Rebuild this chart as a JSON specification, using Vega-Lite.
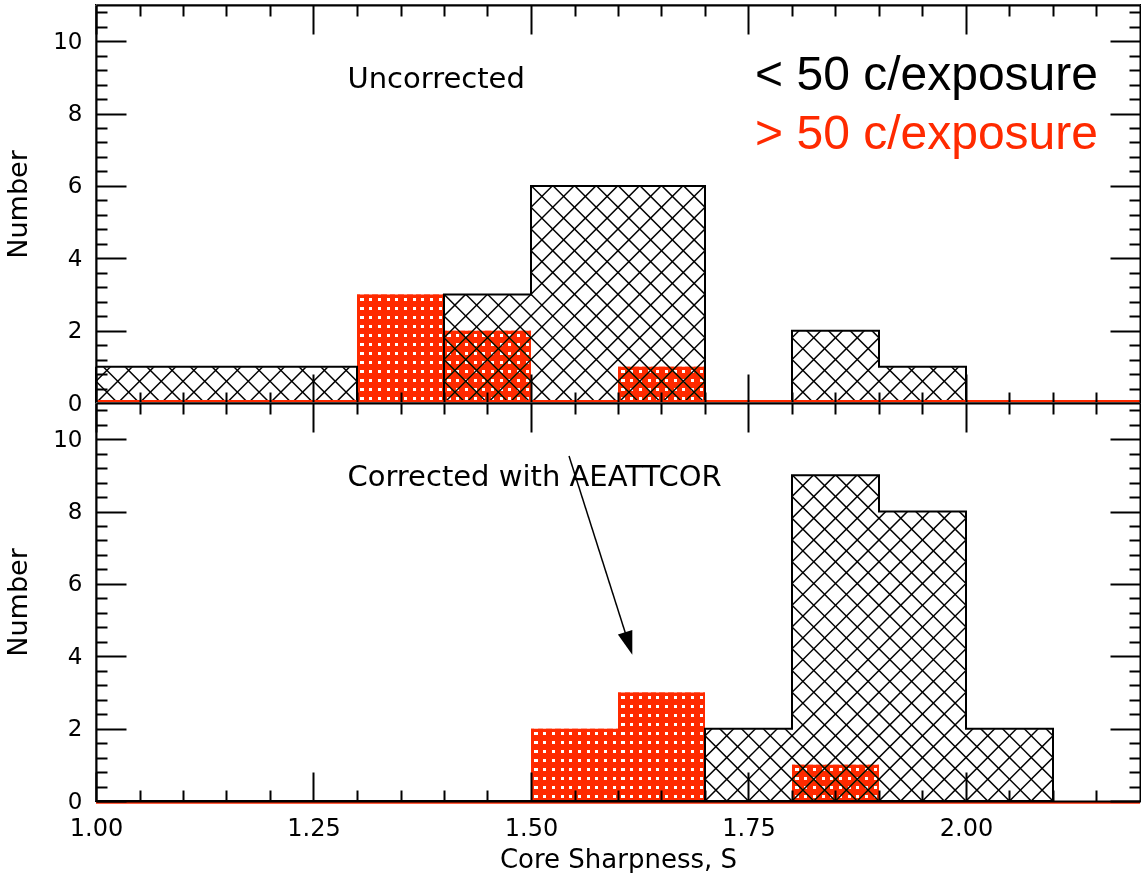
{
  "$schema": "https://vega.github.io/schema/vega-lite/v6.json",
  "background": "white",
  "autosize": {"type": "pad"},
  "padding": {"left": 3, "top": 3, "right": 0, "bottom": 0},
  "spacing": 0,
  "bounds": "flush",
  "config": {
    "view": {"stroke": "black", "strokeWidth": 2},
    "axis": {"grid": false, "domain": false, "zindex": 1, "labelFlush": false, "tickColor": "black", "tickWidth": 2, "domainColor": "black", "domainWidth": 2, "labelColor": "black", "titleColor": "black", "labelFont": "DejaVu Sans", "titleFont": "DejaVu Sans", "titleFontWeight": "normal"},
    "text": {"font": "DejaVu Sans"}
  },
  "datasets": {
    "bins": [
      {"panel": "Uncorrected", "set": "faint", "lo": 1.0, "hi": 1.1, "n": 1},
      {"panel": "Uncorrected", "set": "faint", "lo": 1.1, "hi": 1.2, "n": 1},
      {"panel": "Uncorrected", "set": "faint", "lo": 1.2, "hi": 1.3, "n": 1},
      {"panel": "Uncorrected", "set": "faint", "lo": 1.3, "hi": 1.4, "n": 0},
      {"panel": "Uncorrected", "set": "faint", "lo": 1.4, "hi": 1.5, "n": 3},
      {"panel": "Uncorrected", "set": "faint", "lo": 1.5, "hi": 1.6, "n": 6},
      {"panel": "Uncorrected", "set": "faint", "lo": 1.6, "hi": 1.7, "n": 6},
      {"panel": "Uncorrected", "set": "faint", "lo": 1.7, "hi": 1.8, "n": 0},
      {"panel": "Uncorrected", "set": "faint", "lo": 1.8, "hi": 1.9, "n": 2},
      {"panel": "Uncorrected", "set": "faint", "lo": 1.9, "hi": 2.0, "n": 1},
      {"panel": "Uncorrected", "set": "faint", "lo": 2.0, "hi": 2.1, "n": 0},
      {"panel": "Uncorrected", "set": "faint", "lo": 2.1, "hi": 2.2, "n": 0},
      {"panel": "Uncorrected", "set": "bright", "lo": 1.3, "hi": 1.4, "n": 3},
      {"panel": "Uncorrected", "set": "bright", "lo": 1.4, "hi": 1.5, "n": 2},
      {"panel": "Uncorrected", "set": "bright", "lo": 1.6, "hi": 1.7, "n": 1},
      {"panel": "Corrected", "set": "faint", "lo": 1.0, "hi": 1.1, "n": 0},
      {"panel": "Corrected", "set": "faint", "lo": 1.1, "hi": 1.2, "n": 0},
      {"panel": "Corrected", "set": "faint", "lo": 1.2, "hi": 1.3, "n": 0},
      {"panel": "Corrected", "set": "faint", "lo": 1.3, "hi": 1.4, "n": 0},
      {"panel": "Corrected", "set": "faint", "lo": 1.4, "hi": 1.5, "n": 0},
      {"panel": "Corrected", "set": "faint", "lo": 1.5, "hi": 1.6, "n": 0},
      {"panel": "Corrected", "set": "faint", "lo": 1.6, "hi": 1.7, "n": 0},
      {"panel": "Corrected", "set": "faint", "lo": 1.7, "hi": 1.8, "n": 2},
      {"panel": "Corrected", "set": "faint", "lo": 1.8, "hi": 1.9, "n": 9},
      {"panel": "Corrected", "set": "faint", "lo": 1.9, "hi": 2.0, "n": 8},
      {"panel": "Corrected", "set": "faint", "lo": 2.0, "hi": 2.1, "n": 2},
      {"panel": "Corrected", "set": "faint", "lo": 2.1, "hi": 2.2, "n": 0},
      {"panel": "Corrected", "set": "bright", "lo": 1.5, "hi": 1.6, "n": 2},
      {"panel": "Corrected", "set": "bright", "lo": 1.6, "hi": 1.7, "n": 3},
      {"panel": "Corrected", "set": "bright", "lo": 1.8, "hi": 1.9, "n": 1}
    ],
    "hatch": [
      {"a": 0.525}, {"a": 0.55}, {"a": 0.575}, {"a": 0.6}, {"a": 0.625}, {"a": 0.65}, {"a": 0.675}, {"a": 0.7}, {"a": 0.725}, {"a": 0.75},
      {"a": 0.775}, {"a": 0.8}, {"a": 0.825}, {"a": 0.85}, {"a": 0.875}, {"a": 0.9}, {"a": 0.925}, {"a": 0.95}, {"a": 0.975}, {"a": 1.0},
      {"a": 1.025}, {"a": 1.05}, {"a": 1.075}, {"a": 1.1}, {"a": 1.125}, {"a": 1.15}, {"a": 1.175}, {"a": 1.2}, {"a": 1.225}, {"a": 1.25},
      {"a": 1.275}, {"a": 1.3}, {"a": 1.325}, {"a": 1.35}, {"a": 1.375}, {"a": 1.4}, {"a": 1.425}, {"a": 1.45}, {"a": 1.475}, {"a": 1.5},
      {"a": 1.525}, {"a": 1.55}, {"a": 1.575}, {"a": 1.6}, {"a": 1.625}, {"a": 1.65}, {"a": 1.675}, {"a": 1.7}, {"a": 1.725}, {"a": 1.75},
      {"a": 1.775}, {"a": 1.8}, {"a": 1.825}, {"a": 1.85}, {"a": 1.875}, {"a": 1.9}, {"a": 1.925}, {"a": 1.95}, {"a": 1.975}, {"a": 2.0},
      {"a": 2.025}, {"a": 2.05}, {"a": 2.075}, {"a": 2.1}, {"a": 2.125}, {"a": 2.15}, {"a": 2.175}, {"a": 2.2}, {"a": 2.225}, {"a": 2.25},
      {"a": 2.275}, {"a": 2.3}, {"a": 2.325}, {"a": 2.35}, {"a": 2.375}, {"a": 2.4}, {"a": 2.425}, {"a": 2.45}, {"a": 2.475}, {"a": 2.5},
      {"a": 2.525}, {"a": 2.55}, {"a": 2.575}, {"a": 2.6}, {"a": 2.625}, {"a": 2.65}, {"a": 2.675}
    ]
  },
  "vconcat": [
    {
      "width": 1044,
      "height": 398,
      "resolve": {"axis": {"x": "independent", "y": "independent"}},
      "layer": [
        {
          "data": {"name": "hatch"},
          "mark": {"type": "rule", "clip": true, "color": "black", "strokeWidth": 1.5, "x2Offset": 398},
          "encoding": {
            "x": {"field": "a", "type": "quantitative", "scale": {"domain": [1, 2.2], "nice": false, "zero": false}, "axis": {"orient": "bottom", "values": [1, 1.25, 1.5, 1.75, 2], "labels": false, "tickSize": -29, "domain": true, "title": null, "zindex": 1}},
            "x2": {"field": "a"},
            "y": {"datum": 0, "type": "quantitative", "scale": {"domain": [0, 11], "nice": false, "zero": false}, "axis": {"orient": "left", "values": [0, 2, 4, 6, 8, 10], "labels": false, "tickSize": -30, "domain": true, "title": null, "zindex": 1}},
            "y2": {"datum": 11}
          }
        },
        {
          "data": {"name": "hatch"},
          "mark": {"type": "rule", "clip": true, "color": "black", "strokeWidth": 1.5, "x2Offset": -398},
          "encoding": {
            "x": {"field": "a", "type": "quantitative", "scale": {"domain": [1, 2.2], "nice": false, "zero": false}, "axis": {"orient": "bottom", "values": [1.05, 1.1, 1.15, 1.2, 1.3, 1.35, 1.4, 1.45, 1.55, 1.6, 1.65, 1.7, 1.8, 1.85, 1.9, 1.95, 2.05, 2.1, 2.15], "labels": false, "tickSize": -11, "title": null, "zindex": 1}},
            "x2": {"field": "a"},
            "y": {"datum": 0, "type": "quantitative", "scale": {"domain": [0, 11], "nice": false, "zero": false}, "axis": {"orient": "left", "values": [0.4, 0.8, 1.2, 1.6, 2.4, 2.8, 3.2, 3.6, 4.4, 4.8, 5.2, 5.6, 6.4, 6.8, 7.2, 7.6, 8.4, 8.8, 9.2, 9.6, 10.4, 10.8], "labels": false, "tickSize": -11, "title": null, "zindex": 1}},
            "y2": {"datum": 11}
          }
        },
        {
          "data": {"name": "bins"},
          "transform": [{"filter": "datum.panel == 'Uncorrected' && datum.set == 'faint'"}],
          "mark": {"type": "bar", "color": "white", "stroke": "white", "strokeWidth": 1},
          "encoding": {
            "x": {"field": "lo", "type": "quantitative", "scale": {"domain": [1, 2.2], "nice": false, "zero": false}, "axis": {"orient": "top", "values": [1, 1.25, 1.5, 1.75, 2], "labels": false, "tickSize": -29, "domain": true, "title": null, "zindex": 1}},
            "x2": {"field": "hi"},
            "y": {"field": "n", "type": "quantitative", "scale": {"domain": [0, 11], "nice": false, "zero": false}, "axis": {"orient": "right", "values": [0, 2, 4, 6, 8, 10], "labels": false, "tickSize": -30, "domain": true, "title": null, "zindex": 1}},
            "y2": {"datum": 11}
          }
        },
        {
          "data": {"name": "bins"},
          "transform": [{"filter": "datum.panel == 'Uncorrected' && datum.set == 'bright' && datum.n == 1"}],
          "mark": {"type": "bar", "blend": "darken", "fill": {"gradient": "linear", "x1": 0, "y1": 0, "x2": 0, "y2": 1, "stops": [
            {"offset": 0, "color": "#ff2a00"},
            {"offset": 0.0875, "color": "#ff2a00"}, {"offset": 0.0875, "color": "#ffffff"}, {"offset": 0.175, "color": "#ffffff"}, {"offset": 0.175, "color": "#ff2a00"},
            {"offset": 0.3375, "color": "#ff2a00"}, {"offset": 0.3375, "color": "#ffffff"}, {"offset": 0.425, "color": "#ffffff"}, {"offset": 0.425, "color": "#ff2a00"},
            {"offset": 0.5875, "color": "#ff2a00"}, {"offset": 0.5875, "color": "#ffffff"}, {"offset": 0.675, "color": "#ffffff"}, {"offset": 0.675, "color": "#ff2a00"},
            {"offset": 0.8375, "color": "#ff2a00"}, {"offset": 0.8375, "color": "#ffffff"}, {"offset": 0.925, "color": "#ffffff"}, {"offset": 0.925, "color": "#ff2a00"},
            {"offset": 1, "color": "#ff2a00"}]}},
          "encoding": {
            "x": {"field": "lo", "type": "quantitative", "scale": {"domain": [1, 2.2], "nice": false, "zero": false}, "axis": {"orient": "top", "values": [1.05, 1.1, 1.15, 1.2, 1.3, 1.35, 1.4, 1.45, 1.55, 1.6, 1.65, 1.7, 1.8, 1.85, 1.9, 1.95, 2.05, 2.1, 2.15], "labels": false, "tickSize": -11, "title": null, "zindex": 1}},
            "x2": {"field": "hi"},
            "y": {"field": "n", "type": "quantitative", "scale": {"domain": [0, 11], "nice": false, "zero": false}, "axis": {"orient": "right", "values": [0.4, 0.8, 1.2, 1.6, 2.4, 2.8, 3.2, 3.6, 4.4, 4.8, 5.2, 5.6, 6.4, 6.8, 7.2, 7.6, 8.4, 8.8, 9.2, 9.6, 10.4, 10.8], "labels": false, "tickSize": -11, "title": null, "zindex": 1}},
            "y2": {"datum": 0}
          }
        },
        {
          "data": {"name": "bins"},
          "transform": [{"filter": "datum.panel == 'Uncorrected' && datum.set == 'bright' && datum.n == 2"}],
          "mark": {"type": "bar", "blend": "darken", "fill": {"gradient": "linear", "x1": 0, "y1": 0, "x2": 0, "y2": 1, "stops": [
            {"offset": 0, "color": "#ff2a00"},
            {"offset": 0.04375, "color": "#ff2a00"}, {"offset": 0.04375, "color": "#ffffff"}, {"offset": 0.0875, "color": "#ffffff"}, {"offset": 0.0875, "color": "#ff2a00"},
            {"offset": 0.16875, "color": "#ff2a00"}, {"offset": 0.16875, "color": "#ffffff"}, {"offset": 0.2125, "color": "#ffffff"}, {"offset": 0.2125, "color": "#ff2a00"},
            {"offset": 0.29375, "color": "#ff2a00"}, {"offset": 0.29375, "color": "#ffffff"}, {"offset": 0.3375, "color": "#ffffff"}, {"offset": 0.3375, "color": "#ff2a00"},
            {"offset": 0.41875, "color": "#ff2a00"}, {"offset": 0.41875, "color": "#ffffff"}, {"offset": 0.4625, "color": "#ffffff"}, {"offset": 0.4625, "color": "#ff2a00"},
            {"offset": 0.54375, "color": "#ff2a00"}, {"offset": 0.54375, "color": "#ffffff"}, {"offset": 0.5875, "color": "#ffffff"}, {"offset": 0.5875, "color": "#ff2a00"},
            {"offset": 0.66875, "color": "#ff2a00"}, {"offset": 0.66875, "color": "#ffffff"}, {"offset": 0.7125, "color": "#ffffff"}, {"offset": 0.7125, "color": "#ff2a00"},
            {"offset": 0.79375, "color": "#ff2a00"}, {"offset": 0.79375, "color": "#ffffff"}, {"offset": 0.8375, "color": "#ffffff"}, {"offset": 0.8375, "color": "#ff2a00"},
            {"offset": 0.91875, "color": "#ff2a00"}, {"offset": 0.91875, "color": "#ffffff"}, {"offset": 0.9625, "color": "#ffffff"}, {"offset": 0.9625, "color": "#ff2a00"},
            {"offset": 1, "color": "#ff2a00"}]}},
          "encoding": {
            "x": {"field": "lo", "type": "quantitative", "scale": {"domain": [1, 2.2], "nice": false, "zero": false}, "axis": null},
            "x2": {"field": "hi"},
            "y": {"field": "n", "type": "quantitative", "scale": {"domain": [0, 11], "nice": false, "zero": false}, "axis": null},
            "y2": {"datum": 0}
          }
        },
        {
          "data": {"name": "bins"},
          "transform": [{"filter": "datum.panel == 'Uncorrected' && datum.set == 'bright' && datum.n == 3"}],
          "mark": {"type": "bar", "blend": "darken", "fill": {"gradient": "linear", "x1": 0, "y1": 0, "x2": 0, "y2": 1, "stops": [
            {"offset": 0, "color": "#ff2a00"},
            {"offset": 0.02917, "color": "#ff2a00"}, {"offset": 0.02917, "color": "#ffffff"}, {"offset": 0.05833, "color": "#ffffff"}, {"offset": 0.05833, "color": "#ff2a00"},
            {"offset": 0.1125, "color": "#ff2a00"}, {"offset": 0.1125, "color": "#ffffff"}, {"offset": 0.14167, "color": "#ffffff"}, {"offset": 0.14167, "color": "#ff2a00"},
            {"offset": 0.19583, "color": "#ff2a00"}, {"offset": 0.19583, "color": "#ffffff"}, {"offset": 0.225, "color": "#ffffff"}, {"offset": 0.225, "color": "#ff2a00"},
            {"offset": 0.27917, "color": "#ff2a00"}, {"offset": 0.27917, "color": "#ffffff"}, {"offset": 0.30833, "color": "#ffffff"}, {"offset": 0.30833, "color": "#ff2a00"},
            {"offset": 0.3625, "color": "#ff2a00"}, {"offset": 0.3625, "color": "#ffffff"}, {"offset": 0.39167, "color": "#ffffff"}, {"offset": 0.39167, "color": "#ff2a00"},
            {"offset": 0.44583, "color": "#ff2a00"}, {"offset": 0.44583, "color": "#ffffff"}, {"offset": 0.475, "color": "#ffffff"}, {"offset": 0.475, "color": "#ff2a00"},
            {"offset": 0.52917, "color": "#ff2a00"}, {"offset": 0.52917, "color": "#ffffff"}, {"offset": 0.55833, "color": "#ffffff"}, {"offset": 0.55833, "color": "#ff2a00"},
            {"offset": 0.6125, "color": "#ff2a00"}, {"offset": 0.6125, "color": "#ffffff"}, {"offset": 0.64167, "color": "#ffffff"}, {"offset": 0.64167, "color": "#ff2a00"},
            {"offset": 0.69583, "color": "#ff2a00"}, {"offset": 0.69583, "color": "#ffffff"}, {"offset": 0.725, "color": "#ffffff"}, {"offset": 0.725, "color": "#ff2a00"},
            {"offset": 0.77917, "color": "#ff2a00"}, {"offset": 0.77917, "color": "#ffffff"}, {"offset": 0.80833, "color": "#ffffff"}, {"offset": 0.80833, "color": "#ff2a00"},
            {"offset": 0.8625, "color": "#ff2a00"}, {"offset": 0.8625, "color": "#ffffff"}, {"offset": 0.89167, "color": "#ffffff"}, {"offset": 0.89167, "color": "#ff2a00"},
            {"offset": 0.94583, "color": "#ff2a00"}, {"offset": 0.94583, "color": "#ffffff"}, {"offset": 0.975, "color": "#ffffff"}, {"offset": 0.975, "color": "#ff2a00"},
            {"offset": 1, "color": "#ff2a00"}]}},
          "encoding": {
            "x": {"field": "lo", "type": "quantitative", "scale": {"domain": [1, 2.2], "nice": false, "zero": false}, "axis": null},
            "x2": {"field": "hi"},
            "y": {"field": "n", "type": "quantitative", "scale": {"domain": [0, 11], "nice": false, "zero": false}, "axis": null},
            "y2": {"datum": 0}
          }
        },
        {
          "data": {"name": "bins"},
          "transform": [{"filter": "datum.panel == 'Uncorrected' && datum.set == 'bright'"}],
          "mark": {"type": "bar", "blend": "darken", "fill": {"gradient": "linear", "x1": 0, "y1": 0, "x2": 1, "y2": 0, "stops": [
            {"offset": 0, "color": "#ff2a00"},
            {"offset": 0.04, "color": "#ff2a00"}, {"offset": 0.04, "color": "#ffffff"}, {"offset": 0.075, "color": "#ffffff"}, {"offset": 0.075, "color": "#ff2a00"},
            {"offset": 0.14, "color": "#ff2a00"}, {"offset": 0.14, "color": "#ffffff"}, {"offset": 0.175, "color": "#ffffff"}, {"offset": 0.175, "color": "#ff2a00"},
            {"offset": 0.24, "color": "#ff2a00"}, {"offset": 0.24, "color": "#ffffff"}, {"offset": 0.275, "color": "#ffffff"}, {"offset": 0.275, "color": "#ff2a00"},
            {"offset": 0.34, "color": "#ff2a00"}, {"offset": 0.34, "color": "#ffffff"}, {"offset": 0.375, "color": "#ffffff"}, {"offset": 0.375, "color": "#ff2a00"},
            {"offset": 0.44, "color": "#ff2a00"}, {"offset": 0.44, "color": "#ffffff"}, {"offset": 0.475, "color": "#ffffff"}, {"offset": 0.475, "color": "#ff2a00"},
            {"offset": 0.54, "color": "#ff2a00"}, {"offset": 0.54, "color": "#ffffff"}, {"offset": 0.575, "color": "#ffffff"}, {"offset": 0.575, "color": "#ff2a00"},
            {"offset": 0.64, "color": "#ff2a00"}, {"offset": 0.64, "color": "#ffffff"}, {"offset": 0.675, "color": "#ffffff"}, {"offset": 0.675, "color": "#ff2a00"},
            {"offset": 0.74, "color": "#ff2a00"}, {"offset": 0.74, "color": "#ffffff"}, {"offset": 0.775, "color": "#ffffff"}, {"offset": 0.775, "color": "#ff2a00"},
            {"offset": 0.84, "color": "#ff2a00"}, {"offset": 0.84, "color": "#ffffff"}, {"offset": 0.875, "color": "#ffffff"}, {"offset": 0.875, "color": "#ff2a00"},
            {"offset": 0.94, "color": "#ff2a00"}, {"offset": 0.94, "color": "#ffffff"}, {"offset": 0.975, "color": "#ffffff"}, {"offset": 0.975, "color": "#ff2a00"},
            {"offset": 1, "color": "#ff2a00"}]}},
          "encoding": {
            "x": {"field": "lo", "type": "quantitative", "scale": {"domain": [1, 2.2], "nice": false, "zero": false}, "axis": null},
            "x2": {"field": "hi"},
            "y": {"field": "n", "type": "quantitative", "scale": {"domain": [0, 11], "nice": false, "zero": false}, "axis": null},
            "y2": {"datum": 0}
          }
        },
        {
          "data": {"name": "bins"},
          "transform": [{"filter": "datum.panel == 'Uncorrected' && datum.set == 'faint'"}],
          "mark": {"type": "line", "interpolate": "step-after", "color": "black", "strokeWidth": 2},
          "encoding": {
            "x": {"field": "lo", "type": "quantitative", "scale": {"domain": [1, 2.2], "nice": false, "zero": false}, "axis": null},
            "y": {"field": "n", "type": "quantitative", "scale": {"domain": [0, 11], "nice": false, "zero": false}, "axis": null}
          }
        },
        {
          "data": {"values": [{}]},
          "mark": {"type": "rule", "color": "#ff2a00", "strokeWidth": 2, "yOffset": -2},
          "encoding": {
            "y": {"datum": 0, "type": "quantitative", "scale": {"domain": [0, 11], "nice": false, "zero": false}, "axis": null}
          }
        },
        {
          "data": {"values": [{}]},
          "mark": {"type": "text", "align": "left", "baseline": "alphabetic", "fontSize": 29, "color": "black"},
          "encoding": {
            "x": {"datum": 1.289, "type": "quantitative", "scale": {"domain": [1, 2.2], "nice": false, "zero": false}, "axis": null},
            "y": {"datum": 8.7, "type": "quantitative", "scale": {"domain": [0, 11], "nice": false, "zero": false}, "axis": {"orient": "left", "values": [0, 2, 4, 6, 8, 10], "ticks": false, "tickSize": 0, "labelPadding": 14, "labelFontSize": 23, "title": "Number", "titleFontSize": 27, "titlePadding": 20, "zindex": 1}},
            "text": {"value": "Uncorrected"}
          }
        },
        {
          "data": {"values": [{}]},
          "mark": {"type": "text", "align": "right", "baseline": "alphabetic", "fontSize": 48, "font": "Liberation Sans", "color": "black"},
          "encoding": {
            "x": {"datum": 2.1517, "type": "quantitative", "scale": {"domain": [1, 2.2], "nice": false, "zero": false}, "axis": null},
            "y": {"datum": 8.65, "type": "quantitative", "scale": {"domain": [0, 11], "nice": false, "zero": false}, "axis": null},
            "text": {"value": "< 50 c/exposure"}
          }
        },
        {
          "data": {"values": [{}]},
          "mark": {"type": "text", "align": "right", "baseline": "alphabetic", "fontSize": 48, "font": "Liberation Sans", "color": "#ff2a00"},
          "encoding": {
            "x": {"datum": 2.1517, "type": "quantitative", "scale": {"domain": [1, 2.2], "nice": false, "zero": false}, "axis": null},
            "y": {"datum": 7.02, "type": "quantitative", "scale": {"domain": [0, 11], "nice": false, "zero": false}, "axis": null},
            "text": {"value": "> 50 c/exposure"}
          }
        }
      ]
    },
    {
      "width": 1044,
      "height": 398,
      "resolve": {"axis": {"x": "independent", "y": "independent"}},
      "layer": [
        {
          "data": {"name": "hatch"},
          "mark": {"type": "rule", "clip": true, "color": "black", "strokeWidth": 1.5, "x2Offset": 398},
          "encoding": {
            "x": {"field": "a", "type": "quantitative", "scale": {"domain": [1, 2.2], "nice": false, "zero": false}, "axis": {"orient": "bottom", "values": [1, 1.25, 1.5, 1.75, 2], "labels": false, "tickSize": -29, "domain": true, "title": null, "zindex": 1}},
            "x2": {"field": "a"},
            "y": {"datum": 0, "type": "quantitative", "scale": {"domain": [0, 11], "nice": false, "zero": false}, "axis": {"orient": "left", "values": [0, 2, 4, 6, 8, 10], "labels": false, "tickSize": -30, "domain": true, "title": null, "zindex": 1}},
            "y2": {"datum": 11}
          }
        },
        {
          "data": {"name": "hatch"},
          "mark": {"type": "rule", "clip": true, "color": "black", "strokeWidth": 1.5, "x2Offset": -398},
          "encoding": {
            "x": {"field": "a", "type": "quantitative", "scale": {"domain": [1, 2.2], "nice": false, "zero": false}, "axis": {"orient": "bottom", "values": [1.05, 1.1, 1.15, 1.2, 1.3, 1.35, 1.4, 1.45, 1.55, 1.6, 1.65, 1.7, 1.8, 1.85, 1.9, 1.95, 2.05, 2.1, 2.15], "labels": false, "tickSize": -11, "title": null, "zindex": 1}},
            "x2": {"field": "a"},
            "y": {"datum": 0, "type": "quantitative", "scale": {"domain": [0, 11], "nice": false, "zero": false}, "axis": {"orient": "left", "values": [0.4, 0.8, 1.2, 1.6, 2.4, 2.8, 3.2, 3.6, 4.4, 4.8, 5.2, 5.6, 6.4, 6.8, 7.2, 7.6, 8.4, 8.8, 9.2, 9.6, 10.4, 10.8], "labels": false, "tickSize": -11, "title": null, "zindex": 1}},
            "y2": {"datum": 11}
          }
        },
        {
          "data": {"name": "bins"},
          "transform": [{"filter": "datum.panel == 'Corrected' && datum.set == 'faint'"}],
          "mark": {"type": "bar", "color": "white", "stroke": "white", "strokeWidth": 1},
          "encoding": {
            "x": {"field": "lo", "type": "quantitative", "scale": {"domain": [1, 2.2], "nice": false, "zero": false}, "axis": {"orient": "top", "values": [1, 1.25, 1.5, 1.75, 2], "labels": false, "tickSize": -29, "domain": true, "title": null, "zindex": 1}},
            "x2": {"field": "hi"},
            "y": {"field": "n", "type": "quantitative", "scale": {"domain": [0, 11], "nice": false, "zero": false}, "axis": {"orient": "right", "values": [0, 2, 4, 6, 8, 10], "labels": false, "tickSize": -30, "domain": true, "title": null, "zindex": 1}},
            "y2": {"datum": 11}
          }
        },
        {
          "data": {"name": "bins"},
          "transform": [{"filter": "datum.panel == 'Corrected' && datum.set == 'bright' && datum.n == 1"}],
          "mark": {"type": "bar", "blend": "darken", "fill": {"gradient": "linear", "x1": 0, "y1": 0, "x2": 0, "y2": 1, "stops": [
            {"offset": 0, "color": "#ff2a00"},
            {"offset": 0.0875, "color": "#ff2a00"}, {"offset": 0.0875, "color": "#ffffff"}, {"offset": 0.175, "color": "#ffffff"}, {"offset": 0.175, "color": "#ff2a00"},
            {"offset": 0.3375, "color": "#ff2a00"}, {"offset": 0.3375, "color": "#ffffff"}, {"offset": 0.425, "color": "#ffffff"}, {"offset": 0.425, "color": "#ff2a00"},
            {"offset": 0.5875, "color": "#ff2a00"}, {"offset": 0.5875, "color": "#ffffff"}, {"offset": 0.675, "color": "#ffffff"}, {"offset": 0.675, "color": "#ff2a00"},
            {"offset": 0.8375, "color": "#ff2a00"}, {"offset": 0.8375, "color": "#ffffff"}, {"offset": 0.925, "color": "#ffffff"}, {"offset": 0.925, "color": "#ff2a00"},
            {"offset": 1, "color": "#ff2a00"}]}},
          "encoding": {
            "x": {"field": "lo", "type": "quantitative", "scale": {"domain": [1, 2.2], "nice": false, "zero": false}, "axis": {"orient": "top", "values": [1.05, 1.1, 1.15, 1.2, 1.3, 1.35, 1.4, 1.45, 1.55, 1.6, 1.65, 1.7, 1.8, 1.85, 1.9, 1.95, 2.05, 2.1, 2.15], "labels": false, "tickSize": -11, "title": null, "zindex": 1}},
            "x2": {"field": "hi"},
            "y": {"field": "n", "type": "quantitative", "scale": {"domain": [0, 11], "nice": false, "zero": false}, "axis": {"orient": "right", "values": [0.4, 0.8, 1.2, 1.6, 2.4, 2.8, 3.2, 3.6, 4.4, 4.8, 5.2, 5.6, 6.4, 6.8, 7.2, 7.6, 8.4, 8.8, 9.2, 9.6, 10.4, 10.8], "labels": false, "tickSize": -11, "title": null, "zindex": 1}},
            "y2": {"datum": 0}
          }
        },
        {
          "data": {"name": "bins"},
          "transform": [{"filter": "datum.panel == 'Corrected' && datum.set == 'bright' && datum.n == 2"}],
          "mark": {"type": "bar", "blend": "darken", "fill": {"gradient": "linear", "x1": 0, "y1": 0, "x2": 0, "y2": 1, "stops": [
            {"offset": 0, "color": "#ff2a00"},
            {"offset": 0.04375, "color": "#ff2a00"}, {"offset": 0.04375, "color": "#ffffff"}, {"offset": 0.0875, "color": "#ffffff"}, {"offset": 0.0875, "color": "#ff2a00"},
            {"offset": 0.16875, "color": "#ff2a00"}, {"offset": 0.16875, "color": "#ffffff"}, {"offset": 0.2125, "color": "#ffffff"}, {"offset": 0.2125, "color": "#ff2a00"},
            {"offset": 0.29375, "color": "#ff2a00"}, {"offset": 0.29375, "color": "#ffffff"}, {"offset": 0.3375, "color": "#ffffff"}, {"offset": 0.3375, "color": "#ff2a00"},
            {"offset": 0.41875, "color": "#ff2a00"}, {"offset": 0.41875, "color": "#ffffff"}, {"offset": 0.4625, "color": "#ffffff"}, {"offset": 0.4625, "color": "#ff2a00"},
            {"offset": 0.54375, "color": "#ff2a00"}, {"offset": 0.54375, "color": "#ffffff"}, {"offset": 0.5875, "color": "#ffffff"}, {"offset": 0.5875, "color": "#ff2a00"},
            {"offset": 0.66875, "color": "#ff2a00"}, {"offset": 0.66875, "color": "#ffffff"}, {"offset": 0.7125, "color": "#ffffff"}, {"offset": 0.7125, "color": "#ff2a00"},
            {"offset": 0.79375, "color": "#ff2a00"}, {"offset": 0.79375, "color": "#ffffff"}, {"offset": 0.8375, "color": "#ffffff"}, {"offset": 0.8375, "color": "#ff2a00"},
            {"offset": 0.91875, "color": "#ff2a00"}, {"offset": 0.91875, "color": "#ffffff"}, {"offset": 0.9625, "color": "#ffffff"}, {"offset": 0.9625, "color": "#ff2a00"},
            {"offset": 1, "color": "#ff2a00"}]}},
          "encoding": {
            "x": {"field": "lo", "type": "quantitative", "scale": {"domain": [1, 2.2], "nice": false, "zero": false}, "axis": null},
            "x2": {"field": "hi"},
            "y": {"field": "n", "type": "quantitative", "scale": {"domain": [0, 11], "nice": false, "zero": false}, "axis": null},
            "y2": {"datum": 0}
          }
        },
        {
          "data": {"name": "bins"},
          "transform": [{"filter": "datum.panel == 'Corrected' && datum.set == 'bright' && datum.n == 3"}],
          "mark": {"type": "bar", "blend": "darken", "fill": {"gradient": "linear", "x1": 0, "y1": 0, "x2": 0, "y2": 1, "stops": [
            {"offset": 0, "color": "#ff2a00"},
            {"offset": 0.02917, "color": "#ff2a00"}, {"offset": 0.02917, "color": "#ffffff"}, {"offset": 0.05833, "color": "#ffffff"}, {"offset": 0.05833, "color": "#ff2a00"},
            {"offset": 0.1125, "color": "#ff2a00"}, {"offset": 0.1125, "color": "#ffffff"}, {"offset": 0.14167, "color": "#ffffff"}, {"offset": 0.14167, "color": "#ff2a00"},
            {"offset": 0.19583, "color": "#ff2a00"}, {"offset": 0.19583, "color": "#ffffff"}, {"offset": 0.225, "color": "#ffffff"}, {"offset": 0.225, "color": "#ff2a00"},
            {"offset": 0.27917, "color": "#ff2a00"}, {"offset": 0.27917, "color": "#ffffff"}, {"offset": 0.30833, "color": "#ffffff"}, {"offset": 0.30833, "color": "#ff2a00"},
            {"offset": 0.3625, "color": "#ff2a00"}, {"offset": 0.3625, "color": "#ffffff"}, {"offset": 0.39167, "color": "#ffffff"}, {"offset": 0.39167, "color": "#ff2a00"},
            {"offset": 0.44583, "color": "#ff2a00"}, {"offset": 0.44583, "color": "#ffffff"}, {"offset": 0.475, "color": "#ffffff"}, {"offset": 0.475, "color": "#ff2a00"},
            {"offset": 0.52917, "color": "#ff2a00"}, {"offset": 0.52917, "color": "#ffffff"}, {"offset": 0.55833, "color": "#ffffff"}, {"offset": 0.55833, "color": "#ff2a00"},
            {"offset": 0.6125, "color": "#ff2a00"}, {"offset": 0.6125, "color": "#ffffff"}, {"offset": 0.64167, "color": "#ffffff"}, {"offset": 0.64167, "color": "#ff2a00"},
            {"offset": 0.69583, "color": "#ff2a00"}, {"offset": 0.69583, "color": "#ffffff"}, {"offset": 0.725, "color": "#ffffff"}, {"offset": 0.725, "color": "#ff2a00"},
            {"offset": 0.77917, "color": "#ff2a00"}, {"offset": 0.77917, "color": "#ffffff"}, {"offset": 0.80833, "color": "#ffffff"}, {"offset": 0.80833, "color": "#ff2a00"},
            {"offset": 0.8625, "color": "#ff2a00"}, {"offset": 0.8625, "color": "#ffffff"}, {"offset": 0.89167, "color": "#ffffff"}, {"offset": 0.89167, "color": "#ff2a00"},
            {"offset": 0.94583, "color": "#ff2a00"}, {"offset": 0.94583, "color": "#ffffff"}, {"offset": 0.975, "color": "#ffffff"}, {"offset": 0.975, "color": "#ff2a00"},
            {"offset": 1, "color": "#ff2a00"}]}},
          "encoding": {
            "x": {"field": "lo", "type": "quantitative", "scale": {"domain": [1, 2.2], "nice": false, "zero": false}, "axis": null},
            "x2": {"field": "hi"},
            "y": {"field": "n", "type": "quantitative", "scale": {"domain": [0, 11], "nice": false, "zero": false}, "axis": null},
            "y2": {"datum": 0}
          }
        },
        {
          "data": {"name": "bins"},
          "transform": [{"filter": "datum.panel == 'Corrected' && datum.set == 'bright'"}],
          "mark": {"type": "bar", "blend": "darken", "fill": {"gradient": "linear", "x1": 0, "y1": 0, "x2": 1, "y2": 0, "stops": [
            {"offset": 0, "color": "#ff2a00"},
            {"offset": 0.04, "color": "#ff2a00"}, {"offset": 0.04, "color": "#ffffff"}, {"offset": 0.075, "color": "#ffffff"}, {"offset": 0.075, "color": "#ff2a00"},
            {"offset": 0.14, "color": "#ff2a00"}, {"offset": 0.14, "color": "#ffffff"}, {"offset": 0.175, "color": "#ffffff"}, {"offset": 0.175, "color": "#ff2a00"},
            {"offset": 0.24, "color": "#ff2a00"}, {"offset": 0.24, "color": "#ffffff"}, {"offset": 0.275, "color": "#ffffff"}, {"offset": 0.275, "color": "#ff2a00"},
            {"offset": 0.34, "color": "#ff2a00"}, {"offset": 0.34, "color": "#ffffff"}, {"offset": 0.375, "color": "#ffffff"}, {"offset": 0.375, "color": "#ff2a00"},
            {"offset": 0.44, "color": "#ff2a00"}, {"offset": 0.44, "color": "#ffffff"}, {"offset": 0.475, "color": "#ffffff"}, {"offset": 0.475, "color": "#ff2a00"},
            {"offset": 0.54, "color": "#ff2a00"}, {"offset": 0.54, "color": "#ffffff"}, {"offset": 0.575, "color": "#ffffff"}, {"offset": 0.575, "color": "#ff2a00"},
            {"offset": 0.64, "color": "#ff2a00"}, {"offset": 0.64, "color": "#ffffff"}, {"offset": 0.675, "color": "#ffffff"}, {"offset": 0.675, "color": "#ff2a00"},
            {"offset": 0.74, "color": "#ff2a00"}, {"offset": 0.74, "color": "#ffffff"}, {"offset": 0.775, "color": "#ffffff"}, {"offset": 0.775, "color": "#ff2a00"},
            {"offset": 0.84, "color": "#ff2a00"}, {"offset": 0.84, "color": "#ffffff"}, {"offset": 0.875, "color": "#ffffff"}, {"offset": 0.875, "color": "#ff2a00"},
            {"offset": 0.94, "color": "#ff2a00"}, {"offset": 0.94, "color": "#ffffff"}, {"offset": 0.975, "color": "#ffffff"}, {"offset": 0.975, "color": "#ff2a00"},
            {"offset": 1, "color": "#ff2a00"}]}},
          "encoding": {
            "x": {"field": "lo", "type": "quantitative", "scale": {"domain": [1, 2.2], "nice": false, "zero": false}, "axis": null},
            "x2": {"field": "hi"},
            "y": {"field": "n", "type": "quantitative", "scale": {"domain": [0, 11], "nice": false, "zero": false}, "axis": null},
            "y2": {"datum": 0}
          }
        },
        {
          "data": {"name": "bins"},
          "transform": [{"filter": "datum.panel == 'Corrected' && datum.set == 'faint'"}],
          "mark": {"type": "line", "interpolate": "step-after", "color": "black", "strokeWidth": 2},
          "encoding": {
            "x": {"field": "lo", "type": "quantitative", "scale": {"domain": [1, 2.2], "nice": false, "zero": false}, "axis": null},
            "y": {"field": "n", "type": "quantitative", "scale": {"domain": [0, 11], "nice": false, "zero": false}, "axis": null}
          }
        },
        {
          "data": {"values": [{}]},
          "mark": {"type": "rule", "color": "#ff2a00", "strokeWidth": 2.5, "yOffset": 1.5},
          "encoding": {
            "y": {"datum": 0, "type": "quantitative", "scale": {"domain": [0, 11], "nice": false, "zero": false}, "axis": null}
          }
        },
        {
          "data": {"values": [{}]},
          "mark": {"type": "text", "align": "left", "baseline": "alphabetic", "fontSize": 29, "color": "black"},
          "encoding": {
            "x": {"datum": 1.289, "type": "quantitative", "scale": {"domain": [1, 2.2], "nice": false, "zero": false}, "axis": {"orient": "bottom", "values": [1, 1.25, 1.5, 1.75, 2], "format": ".2f", "ticks": false, "tickSize": 0, "labelPadding": 15, "labelFontSize": 24, "title": "Core Sharpness, S", "titleFontSize": 26, "titlePadding": 6, "zindex": 1}},
            "y": {"datum": 8.7, "type": "quantitative", "scale": {"domain": [0, 11], "nice": false, "zero": false}, "axis": {"orient": "left", "values": [0, 2, 4, 6, 8, 10], "ticks": false, "tickSize": 0, "labelPadding": 14, "labelFontSize": 23, "title": "Number", "titleFontSize": 27, "titlePadding": 20, "zindex": 1}},
            "text": {"value": "Corrected with AEATTCOR"}
          }
        },
        {
          "data": {"values": [{}]},
          "mark": {"type": "rule", "color": "black", "strokeWidth": 1.5},
          "encoding": {
            "x": {"datum": 1.5437, "type": "quantitative", "scale": {"domain": [1, 2.2], "nice": false, "zero": false}, "axis": null},
            "y": {"datum": 9.535, "type": "quantitative", "scale": {"domain": [0, 11], "nice": false, "zero": false}, "axis": null},
            "x2": {"datum": 1.6123},
            "y2": {"datum": 4.353}
          }
        },
        {
          "data": {"values": [{}]},
          "mark": {"type": "point", "filled": true, "color": "black", "opacity": 1, "shape": "M0,1L-0.64,-1L0.64,-1Z", "size": 560, "angle": 342.3, "strokeWidth": 0},
          "encoding": {
            "x": {"datum": 1.6123, "type": "quantitative", "scale": {"domain": [1, 2.2], "nice": false, "zero": false}, "axis": null},
            "y": {"datum": 4.353, "type": "quantitative", "scale": {"domain": [0, 11], "nice": false, "zero": false}, "axis": null}
          }
        }
      ]
    }
  ]
}
